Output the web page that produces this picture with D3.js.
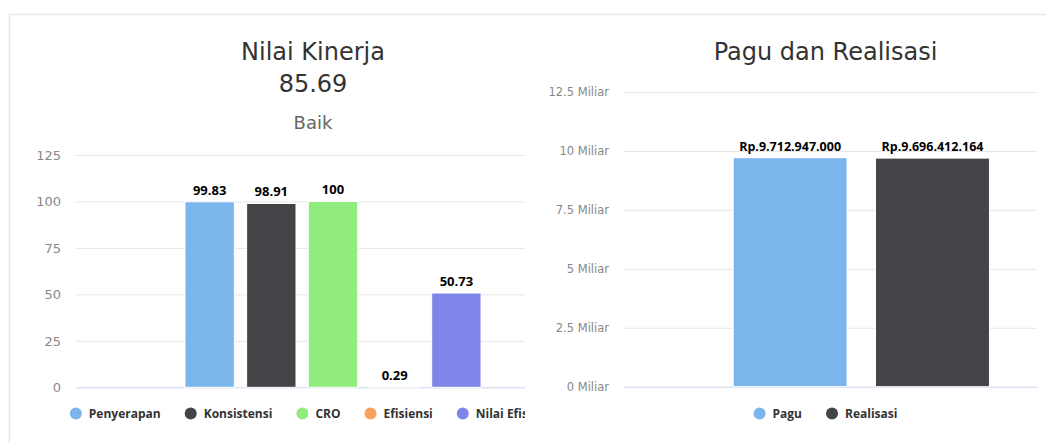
<!DOCTYPE html>
<html>
<head>
<meta charset="utf-8">
<script src="https://cdn.jsdelivr.net/npm/d3@7"></script>
<style>
  body { margin: 0; background: #fff; }
</style>
</head>
<body>
<svg id="chart" width="1046" height="443"></svg>
<script>
// data
const kinerjaSeries = ["Penyerapan", "Konsistensi", "CRO", "Efisiensi", "Nilai Efisiensi"];
const kinerjaValues = [99.83, 98.91, 100, 0.29, 50.73];
const kinerjaTicks = [0, 25, 50, 75, 100, 125];
const kinerjaTitle = ["Nilai Kinerja", "85.69"];
const kinerjaSubtitle = "Baik";

const paguSeries = ["Pagu", "Realisasi"];
const paguValues = [9712947000, 9696412164];
const paguTicks = [0, 2.5e9, 5e9, 7.5e9, 10e9, 12.5e9];
const paguTitle = ["Pagu dan Realisasi"];

const colors = ["#7cb5ec", "#434348", "#90ed7d", "#f7a35c", "#8085e9"];

const svg = d3.select("#chart");

// card border
svg.append("path")
    .attr("d", "M9.5,443V14.5H1046")
    .attr("fill", "none")
    .attr("stroke", "#e6e6e6")
    .attr("stroke-width", 1.5);

const rupiah = v => "Rp." + d3.format(",")(v).replace(/,/g, ".");

function drawChart(o) {
    const clipId = "clip-" + o.id;
    svg.append("clipPath").attr("id", clipId)
        .append("rect")
        .attr("x", o.clip[0]).attr("y", 15)
        .attr("width", o.clip[1] - o.clip[0]).attr("height", 430);

    const g = svg.append("g").attr("clip-path", `url(#${clipId})`);
    const W = o.plotRight - o.plotLeft;

    const y = d3.scaleLinear()
        .domain([0, d3.max(o.ticks)])
        .range([o.plotBottom, o.plotTop]);

    const x = d3.scaleBand()
        .domain(o.series)
        .range([o.plotLeft + 0.2 * W, o.plotRight - 0.2 * W])
        .paddingInner(0.2)
        .paddingOuter(0.1);

    // titles
    o.title.forEach((t, i) => {
        g.append("text")
            .attr("x", o.center)
            .attr("y", 60 + i * 32)
            .attr("text-anchor", "middle")
            .attr("font-family", "DejaVu Sans")
            .attr("font-size", 24)
            .attr("fill", "#333")
            .text(t);
    });
    if (o.subtitle) {
        g.append("text")
            .attr("x", o.center)
            .attr("y", 129)
            .attr("text-anchor", "middle")
            .attr("font-family", "DejaVu Sans")
            .attr("font-size", 18)
            .attr("fill", "#666")
            .text(o.subtitle);
    }

    // y axis with grid lines
    const axis = g.append("g")
        .attr("transform", `translate(${o.plotLeft},0)`)
        .call(d3.axisLeft(y).tickValues(o.ticks).tickSize(-W).tickPadding(15).tickFormat(o.tickFormat))
        .call(a => a.select(".domain").remove());
    axis.selectAll(".tick line")
        .attr("stroke", d => d === 0 ? "#ccd6eb" : "#e6e6e6");
    axis.selectAll(".tick text")
        .attr("font-family", "DejaVu Sans")
        .attr("font-size", o.axisFont)
        .attr("fill", "#888");

    // bars
    g.append("g")
        .selectAll("rect")
        .data(o.values)
        .join("rect")
        .attr("x", (d, i) => x(o.series[i]))
        .attr("y", d => y(d))
        .attr("width", x.bandwidth())
        .attr("height", d => y(0) - y(d))
        .attr("fill", (d, i) => colors[i])
        .attr("stroke", "#fff")
        .attr("stroke-width", 1);

    // data labels
    g.append("g")
        .selectAll("text")
        .data(o.values)
        .join("text")
        .attr("x", (d, i) => x(o.series[i]) + x.bandwidth() / 2)
        .attr("y", d => y(d) - 7)
        .attr("text-anchor", "middle")
        .attr("font-family", "Open Sans")
        .attr("font-weight", "bold")
        .attr("font-size", o.labelFont)
        .attr("fill", "#000")
        .text(o.labelFormat);

    // legend
    const leg = g.append("g");
    const items = leg.selectAll("g")
        .data(o.series)
        .join("g");
    items.append("circle")
        .attr("r", 6)
        .attr("cy", 413.5)
        .attr("fill", (d, i) => colors[i]);
    items.append("text")
        .attr("x", 13)
        .attr("y", 418)
        .attr("font-family", "Open Sans")
        .attr("font-weight", "bold")
        .attr("font-size", 12)
        .attr("fill", "#333")
        .text(d => d);
    let pos = 0;
    const offsets = [];
    items.each(function (d, i) {
        offsets.push(pos);
        const tw = d3.select(this).select("text").node().getComputedTextLength();
        pos += 6 + 13 + tw + 24;
    });
    const total = pos - 24;
    const start = o.center - total / 2;
    items.attr("transform", (d, i) => `translate(${start + 6 + offsets[i]},0)`);
}

drawChart({
    id: "kinerja",
    clip: [0, 525],
    center: 313,
    title: kinerjaTitle,
    subtitle: kinerjaSubtitle,
    series: kinerjaSeries,
    values: kinerjaValues,
    ticks: kinerjaTicks,
    tickFormat: d => d,
    labelFormat: d => d,
    plotLeft: 76, plotRight: 590, plotTop: 155, plotBottom: 387.3,
    axisFont: 13, labelFont: 13
});

drawChart({
    id: "pagu",
    clip: [526, 1037],
    center: 825.5,
    title: paguTitle,
    subtitle: null,
    series: paguSeries,
    values: paguValues,
    ticks: paguTicks,
    tickFormat: d => (d / 1e9) + " Miliar",
    labelFormat: rupiah,
    plotLeft: 624, plotRight: 1098.6, plotTop: 92, plotBottom: 386.7,
    axisFont: 11.5, labelFont: 12.5
});
</script>
</body>
</html>
